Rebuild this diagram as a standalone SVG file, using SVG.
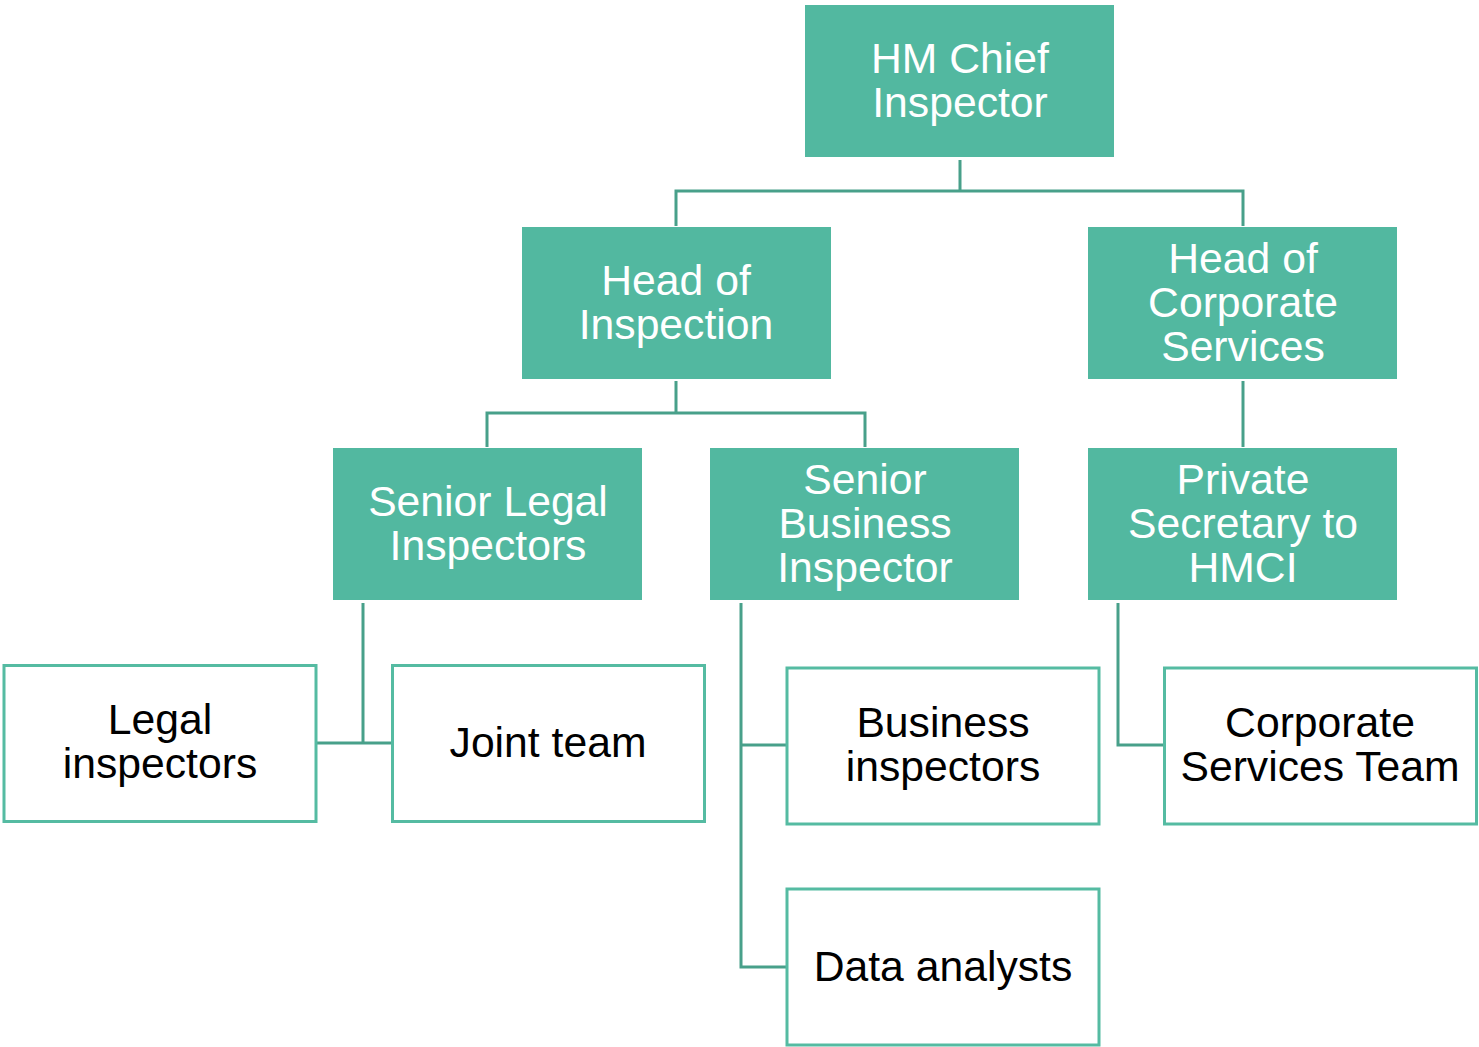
<svg xmlns="http://www.w3.org/2000/svg" width="1479" height="1047" viewBox="0 0 1479 1047">
<style>
.f{fill:#52b8a0;stroke:none}
.o{fill:#fff;stroke:#55bba2;stroke-width:3}
.tw{fill:#fff;font-family:"Liberation Sans",Arial,sans-serif;font-size:42.7px;text-anchor:middle}
.tb{fill:#000;font-family:"Liberation Sans",Arial,sans-serif;font-size:42.7px;text-anchor:middle}
.c{fill:none;stroke:#48a08a;stroke-width:3}
</style>
<rect width="1479" height="1047" fill="#fff"/>
<g id="connectors">
<path class="c" d="M960 160V191M676 226V191H1243V226"/>
<path class="c" d="M676 381V413M487 447V413H865V447"/>
<path class="c" d="M1243 381V447"/>
<path class="c" d="M363 603V743M316 743H392"/>
<path class="c" d="M741 603V967H787M741 745H787"/>
<path class="c" d="M1118 603V745H1164"/>
</g>
<g id="hmci"><rect class="f" x="805" y="5" width="309" height="152"/><text class="tw" x="960" y="73">HM Chief</text><text class="tw" x="960" y="117">Inspector</text></g>
<g id="head-inspection"><rect class="f" x="522" y="227" width="309" height="152"/><text class="tw" x="676" y="295">Head of</text><text class="tw" x="676" y="339">Inspection</text></g>
<g id="head-corporate"><rect class="f" x="1088" y="227" width="309" height="152"/><text class="tw" x="1243" y="273">Head of</text><text class="tw" x="1243" y="317">Corporate</text><text class="tw" x="1243" y="361">Services</text></g>
<g id="senior-legal"><rect class="f" x="333" y="448" width="309" height="152"/><text class="tw" x="488" y="516">Senior Legal</text><text class="tw" x="488" y="560">Inspectors</text></g>
<g id="senior-business"><rect class="f" x="710" y="448" width="309" height="152"/><text class="tw" x="865" y="494">Senior</text><text class="tw" x="865" y="538">Business</text><text class="tw" x="865" y="582">Inspector</text></g>
<g id="private-secretary"><rect class="f" x="1088" y="448" width="309" height="152"/><text class="tw" x="1243" y="494">Private</text><text class="tw" x="1243" y="538">Secretary to</text><text class="tw" x="1243" y="582">HMCI</text></g>
<g id="legal-inspectors"><rect class="o" x="4" y="665.5" width="312" height="156"/><text class="tb" x="160" y="734">Legal</text><text class="tb" x="160" y="778">inspectors</text></g>
<g id="joint-team"><rect class="o" x="392.5" y="665.5" width="312" height="156"/><text class="tb" x="548" y="757">Joint team</text></g>
<g id="business-inspectors"><rect class="o" x="787" y="668" width="312" height="156"/><text class="tb" x="943" y="737">Business</text><text class="tb" x="943" y="781">inspectors</text></g>
<g id="data-analysts"><rect class="o" x="787" y="889" width="312" height="156"/><text class="tb" x="943" y="981">Data analysts</text></g>
<g id="corporate-team"><rect class="o" x="1164.5" y="668" width="312" height="156"/><text class="tb" x="1320" y="737">Corporate</text><text class="tb" x="1320" y="781">Services Team</text></g>
</svg>
